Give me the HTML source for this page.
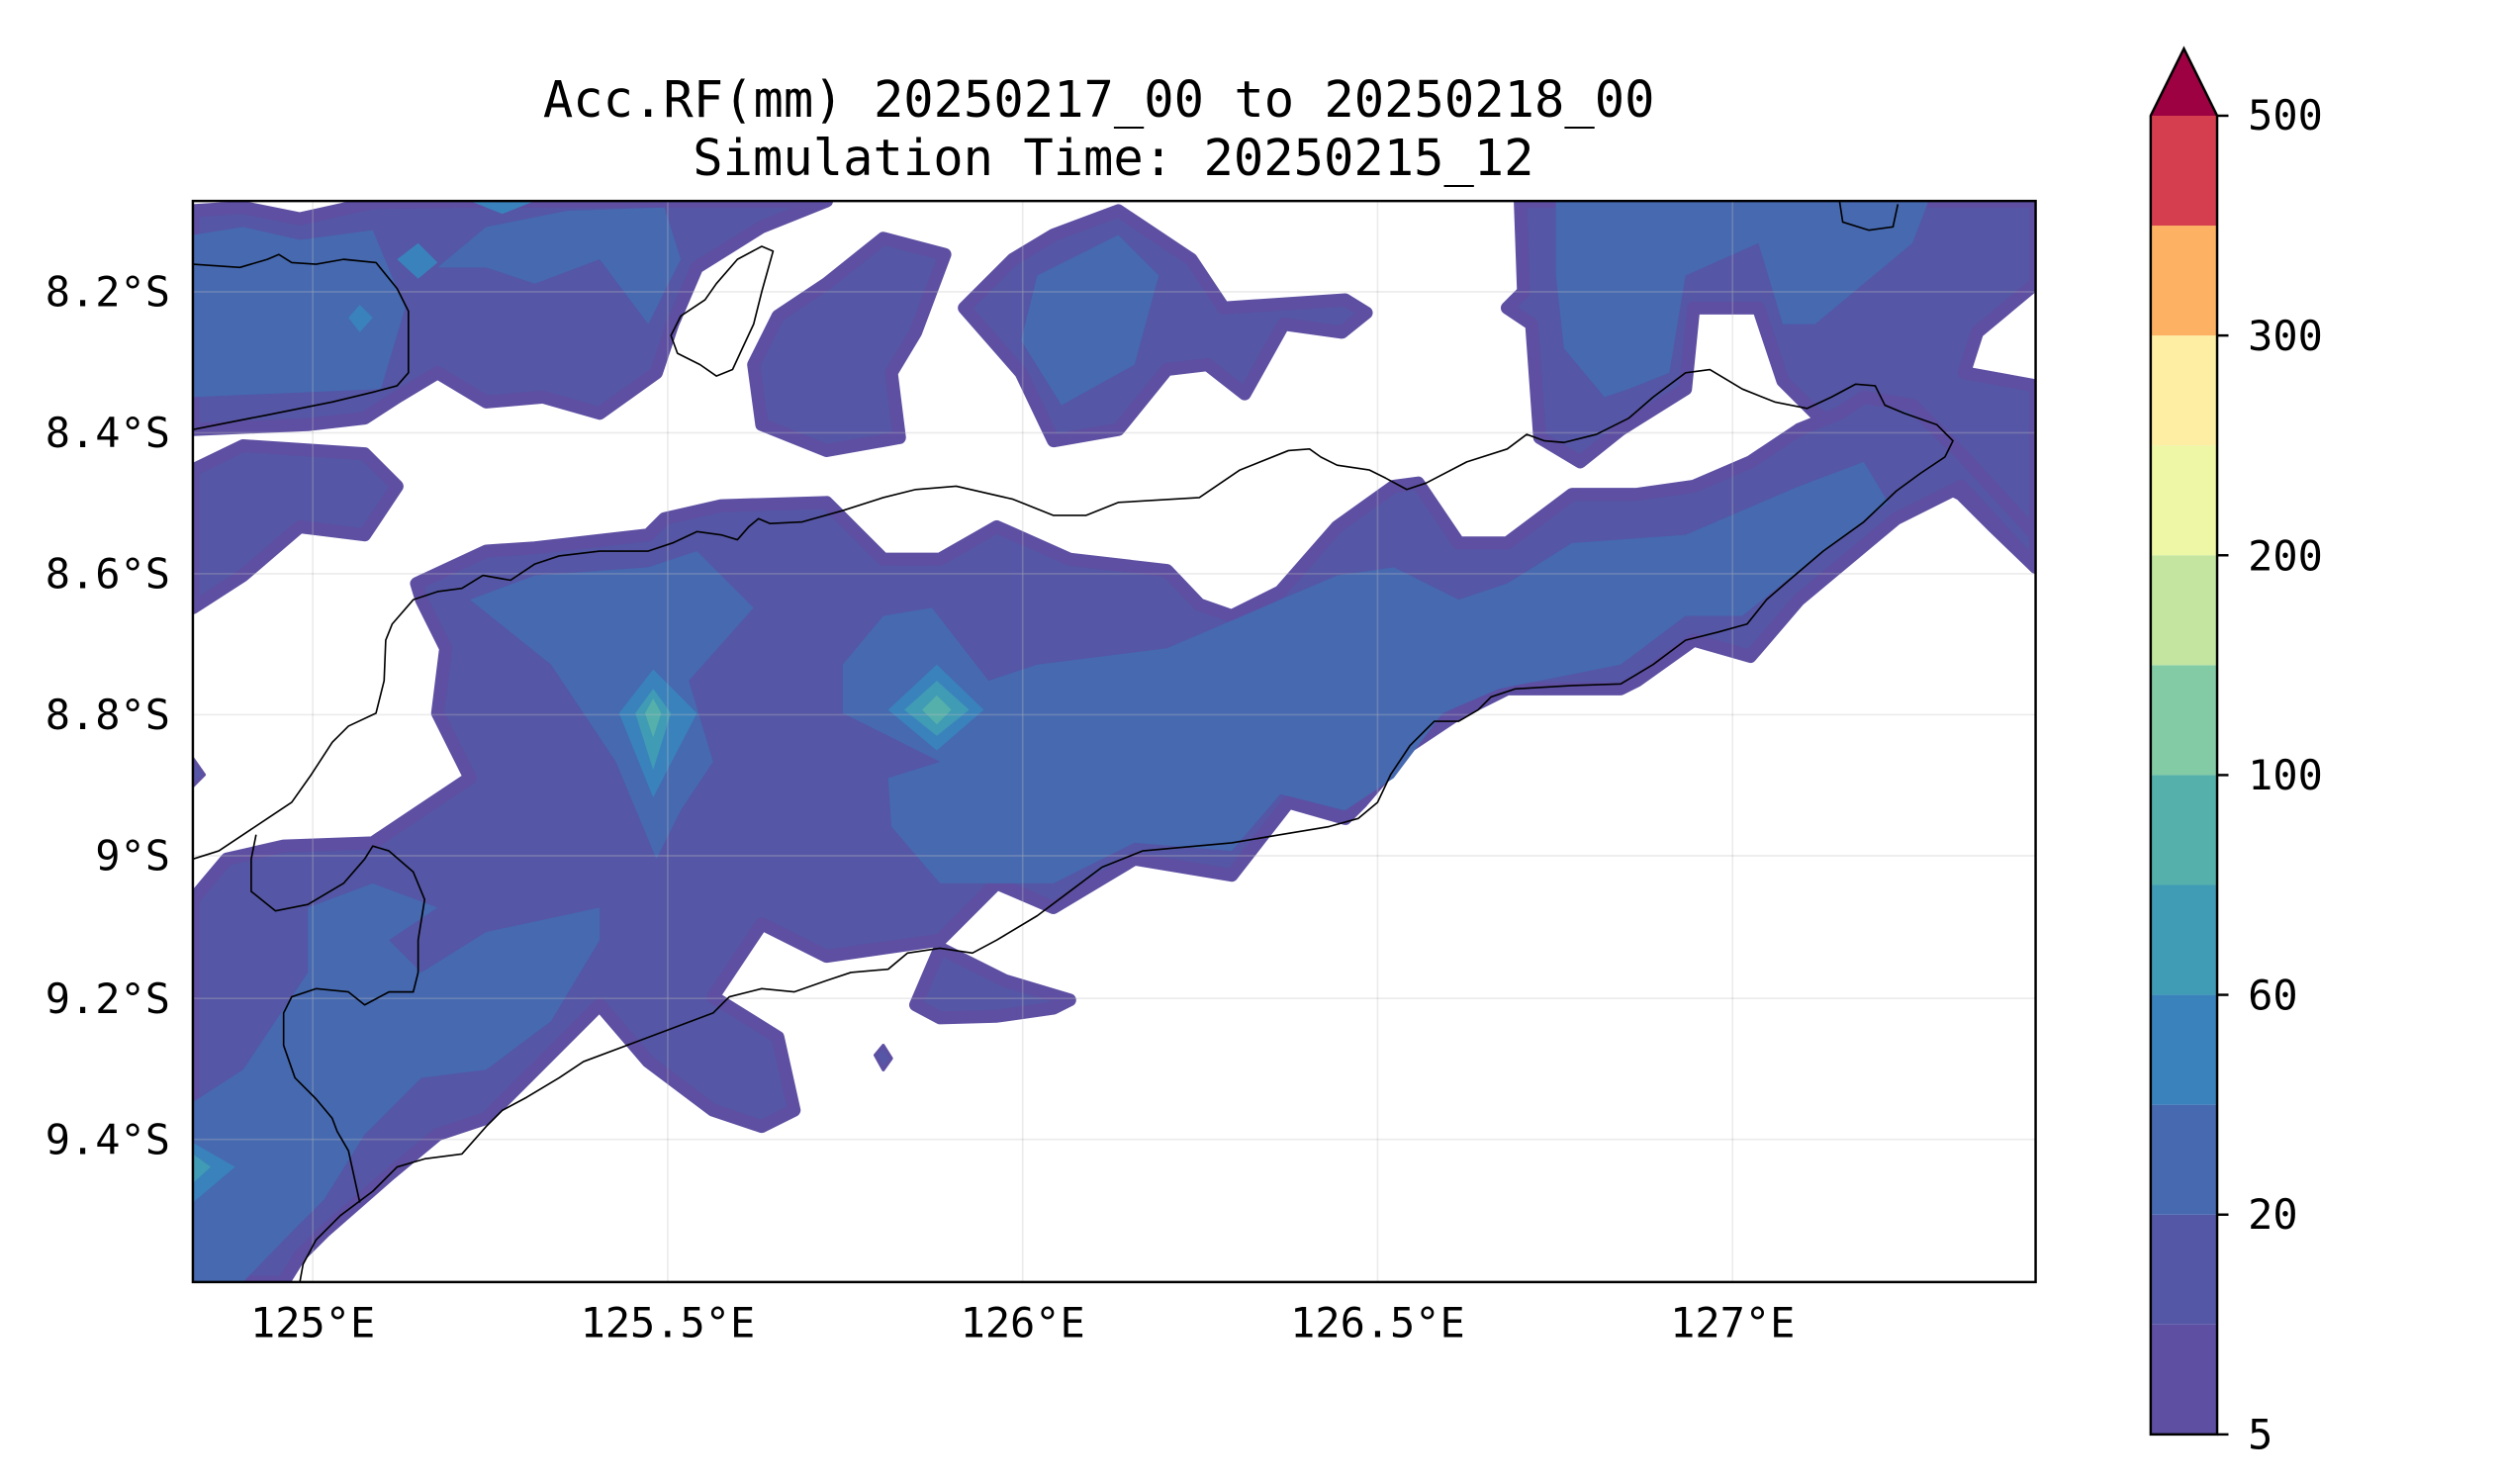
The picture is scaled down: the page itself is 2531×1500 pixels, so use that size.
<!DOCTYPE html>
<html><head><meta charset="utf-8"><style>
html,body{margin:0;padding:0;background:#fff;}
svg{display:block;}
text{font-family:"DejaVu Sans Mono","Liberation Mono",monospace;fill:#000;}
</style></head><body>
<svg width="2531" height="1500" viewBox="0 0 1545 915.6" preserveAspectRatio="none" xmlns="http://www.w3.org/2000/svg">
<defs><clipPath id="pc"><rect x="119" y="124" width="1137" height="667"/></clipPath></defs>
<rect width="1545" height="915.6" fill="#fff"/>
<text x="678" y="72" font-size="30.8" text-anchor="middle">Acc.RF(mm) 20250217_00 to 20250218_00</text>
<text x="687" y="108" font-size="30.8" text-anchor="middle">Simulation Time: 20250215_12</text>
<g clip-path="url(#pc)">
<g fill="#5556a5" stroke="#5e4fa2" stroke-width="8" stroke-linejoin="round">
<polygon points="119,130 150,128 185,135 230,125 290,124 510,124 470,140 430,165 415,200 405,230 370,255 335,245 300,248 270,230 245,245 225,258 190,262 119,265"/>
<polygon points="480,195 510,175 545,147 583,157 565,205 550,230 555,270 510,278 470,262 465,225"/>
<polygon points="595,190 625,160 650,145 690,130 735,160 755,190 830,185 843,193 828,205 792,200 768,243 745,225 720,228 690,265 650,272 630,230"/>
<polygon points="938,124 1256,124 1256,175 1220,205 1212,230 1256,238 1256,350 1230,325 1210,305 1180,290 1150,270 1120,255 1100,235 1085,190 1045,190 1040,240 1000,265 975,285 950,270 945,200 930,190 940,180"/>
<polygon points="119,290 150,275 225,280 245,300 225,330 185,325 150,355 119,375"/>
<polygon points="257,360 300,340 330,338 400,330 410,320 445,312 510,310 545,345 580,345 615,325 660,345 720,352 740,373 760,380 790,365 825,325 860,300 875,298 900,335 930,335 970,305 1010,305 1045,300 1080,285 1110,265 1135,255 1150,245 1180,250 1210,280 1256,330 1256,350 1210,300 1170,320 1110,370 1080,405 1045,395 1010,420 1000,425 930,425 900,440 870,460 840,495 830,505 795,495 760,540 700,530 650,560 615,545 580,580 510,590 470,570 440,615 480,640 490,685 470,695 440,685 400,655 370,620 300,690 270,700 240,725 200,760 185,775 175,791 119,791 119,555 140,530 175,522 230,520 260,500 290,480 270,440 275,400 260,370"/>
<polygon points="565,620 580,585 620,605 660,617 650,622 615,627 580,628"/>
<polygon points="540,651 545,645 550,653 545,660" stroke-width="2"/>
<polygon points="119,468 126,478 119,485" stroke-width="2"/>
</g>
<g fill="#4669b0">
<polygon points="119,145 150,140 185,148 230,142 250,190 235,240 119,245"/>
<polygon points="270,165 300,140 350,130 410,128 420,160 400,200 370,160 330,175 300,165"/>
<polygon points="960,124 1190,124 1180,150 1120,200 1100,200 1085,150 1040,170 1030,230 1005,240 990,245 965,215 960,170"/>
<polygon points="290,370 330,355 400,350 430,340 465,375 425,420 440,470 420,500 405,530 380,470 340,410"/>
<polygon points="520,410 545,380 575,375 610,420 640,410 720,400 790,370 825,355 860,350 900,370 930,360 970,335 1040,330 1110,300 1150,285 1165,310 1100,360 1075,380 1040,380 1000,410 925,425 890,440 860,480 830,500 790,490 760,525 700,520 650,545 610,545 580,545 550,510 548,480 580,470 540,450 520,440"/>
<polygon points="190,560 230,545 270,560 240,580 260,600 300,575 370,560 370,580 340,630 300,660 260,665 225,700 200,740 180,760 150,791 119,791 119,680 150,660 190,600"/>
<polygon points="640,170 690,145 715,170 700,225 655,250 630,210"/>
</g>
<polygon fill="#3a82bc" points="382,440 403,413 430,440 403,492"/>
<polygon fill="#409bb5" points="392,440 403,425 414,440 403,475"/>
<polygon fill="#55b0ab" points="398,440 403,431 408,440 403,455"/>
<polygon fill="#3a82bc" points="548,438 578,410 607,438 578,463"/>
<polygon fill="#409bb5" points="558,438 578,420 598,438 578,454"/>
<polygon fill="#55b0ab" points="569,438 578,429 587,438 578,447"/>
<polygon fill="#3a82bc" points="119,705 145,720 119,742"/>
<polygon fill="#409bb5" points="119,712 130,720 119,730"/>
<polygon fill="#3a82bc" points="245,160 258,150 270,162 258,172"/>
<polygon fill="#3a82bc" points="215,196 222,188 230,196 222,205"/>
<polygon fill="#3a82bc" points="290,124 330,124 310,132"/>
<g stroke="#ffffff" stroke-opacity="0.25" stroke-width="1" fill="none">
<line x1="193" y1="124" x2="193" y2="791"/><line x1="412" y1="124" x2="412" y2="791"/><line x1="631" y1="124" x2="631" y2="791"/><line x1="850" y1="124" x2="850" y2="791"/><line x1="1069" y1="124" x2="1069" y2="791"/>
<line x1="119" y1="180" x2="1256" y2="180"/><line x1="119" y1="267" x2="1256" y2="267"/><line x1="119" y1="354" x2="1256" y2="354"/><line x1="119" y1="441" x2="1256" y2="441"/><line x1="119" y1="528" x2="1256" y2="528"/><line x1="119" y1="616" x2="1256" y2="616"/><line x1="119" y1="703" x2="1256" y2="703"/>
</g>
<g stroke="#000" stroke-opacity="0.08" stroke-width="1" fill="none">
<line x1="193" y1="124" x2="193" y2="791"/><line x1="412" y1="124" x2="412" y2="791"/><line x1="631" y1="124" x2="631" y2="791"/><line x1="850" y1="124" x2="850" y2="791"/><line x1="1069" y1="124" x2="1069" y2="791"/>
<line x1="119" y1="180" x2="1256" y2="180"/><line x1="119" y1="267" x2="1256" y2="267"/><line x1="119" y1="354" x2="1256" y2="354"/><line x1="119" y1="441" x2="1256" y2="441"/><line x1="119" y1="528" x2="1256" y2="528"/><line x1="119" y1="616" x2="1256" y2="616"/><line x1="119" y1="703" x2="1256" y2="703"/>
</g>
<g stroke="#000" stroke-width="1" fill="none" stroke-linejoin="round">
<polyline points="119,163 148,165 165,160 172,157 180,162 195,163 212,160 232,162 245,178 252,192 252,230 245,238 230,242 205,248 165,256 119,265"/>
<polygon points="470,152 477,155 470,180 465,200 458,215 452,228 442,232 432,225 418,218 414,207 420,195 435,185 442,175 455,160"/>
<polyline points="119,530 135,525 150,515 165,505 180,495 192,478 205,458 215,448 232,440 237,420 238,395 242,385 255,370 270,365 285,363 298,355 315,358 330,348 345,343 370,340 400,340 415,335 430,328 445,330 455,333 462,325 468,320 475,323 495,322 520,315 545,307 565,302 590,300 625,308 650,318 670,318 690,310 740,307 765,290 795,278 808,277 815,282 825,287 845,290 855,295 868,302 880,298 905,285 930,277 942,268 953,272 965,273 985,268 1005,258 1020,245 1040,230 1055,228 1075,240 1095,248 1115,252 1130,245 1145,237 1157,238 1163,250 1175,255 1195,262 1205,272 1200,282 1185,292 1170,303 1150,322 1125,340 1105,357 1090,370 1078,385 1060,390 1040,395 1020,410 1000,422 970,423 935,425 920,430 912,438 900,445 885,445 870,460 858,478 850,495 838,505 820,510 790,515 760,520 705,525 680,535 660,550 640,565 615,580 600,588 580,585 560,588 548,598 525,600 510,605 490,612 470,610 450,615 440,625 400,640 360,655 345,665 325,677 310,685 300,695 285,712 262,715 245,720 230,735 210,750 195,765 187,780 185,791"/>
<polyline points="158,515 155,530 155,550 170,562 190,558 212,545 225,530 230,522 240,525 255,538 262,555 258,580 258,600 255,612 240,612 225,620 215,612 195,610 180,615 175,625 175,645 182,665 195,678 205,690 208,698 215,710 222,742"/>
<polyline points="1135,124 1137,137 1153,142 1168,140 1171,126"/>
</g>
</g>
<rect x="119" y="124" width="1137" height="667" fill="none" stroke="#000" stroke-width="1.5"/>
<g font-size="25.6" text-anchor="end">
<text x="105" y="189">8.2°S</text><text x="105" y="276">8.4°S</text><text x="105" y="363">8.6°S</text><text x="105" y="450">8.8°S</text><text x="105" y="537">9°S</text><text x="105" y="625">9.2°S</text><text x="105" y="712">9.4°S</text>
</g>
<g font-size="25.6" text-anchor="middle">
<text x="193" y="825">125°E</text><text x="412" y="825">125.5°E</text><text x="631" y="825">126°E</text><text x="850" y="825">126.5°E</text><text x="1069" y="825">127°E</text>
</g>
<g>
<rect x="1327" y="817.2" width="41" height="67.8" fill="#5e4fa2"/>
<rect x="1327" y="749.4" width="41" height="67.8" fill="#5457a5"/>
<rect x="1327" y="681.6" width="41" height="67.8" fill="#4669b0"/>
<rect x="1327" y="613.8" width="41" height="67.8" fill="#3a82bc"/>
<rect x="1327" y="546" width="41" height="67.8" fill="#409bb5"/>
<rect x="1327" y="478.2" width="41" height="67.8" fill="#55b0ab"/>
<rect x="1327" y="410.4" width="41" height="67.8" fill="#82cba5"/>
<rect x="1327" y="342.6" width="41" height="67.8" fill="#c3e5a0"/>
<rect x="1327" y="274.8" width="41" height="67.8" fill="#eef7a5"/>
<rect x="1327" y="207" width="41" height="67.8" fill="#fdeea4"/>
<rect x="1327" y="139.2" width="41" height="67.8" fill="#fdb162"/>
<rect x="1327" y="71.4" width="41" height="67.8" fill="#d53e4f"/>
<polygon points="1327,71.4 1347.5,30 1368,71.4" fill="#9e0142"/>
<polygon points="1327,71.4 1347.5,30 1368,71.4 1368,885 1327,885" fill="none" stroke="#000" stroke-width="1.5"/>
<g stroke="#000" stroke-width="1.5">
<line x1="1368" y1="885" x2="1375" y2="885"/><line x1="1368" y1="749.4" x2="1375" y2="749.4"/><line x1="1368" y1="613.8" x2="1375" y2="613.8"/><line x1="1368" y1="478.2" x2="1375" y2="478.2"/><line x1="1368" y1="342.6" x2="1375" y2="342.6"/><line x1="1368" y1="207" x2="1375" y2="207"/><line x1="1368" y1="71.4" x2="1375" y2="71.4"/>
</g>
<g font-size="25.6">
<text x="1387" y="894">5</text><text x="1387" y="758">20</text><text x="1387" y="623">60</text><text x="1387" y="487">100</text><text x="1387" y="352">200</text><text x="1387" y="216">300</text><text x="1387" y="80">500</text>
</g>
</g>
</svg>
</body></html>
